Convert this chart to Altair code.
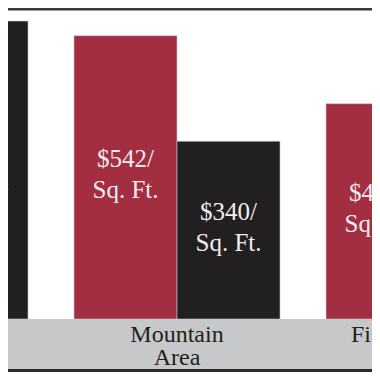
import altair as alt
import pandas as pd

# ---- data ----
groups = ["Downtown", "Mountain Area", "Fish Creek Area"]
group_labels = ["Downtown", "Mountain\nArea", "Fish Creek Area"]
series = ["Series 1", "Series 2"]
series1_values = [None, 542, 412]   # red bars ($ per sq. ft.)
series2_values = [570, 340, None]   # black bars ($ per sq. ft.)

# ---- build tables ----
rows = []
for g, v1, v2 in zip(groups, series1_values, series2_values):
    if v1 is not None:
        rows.append({"group": g, "series": series[0], "value": v1})
    if v2 is not None:
        rows.append({"group": g, "series": series[1], "value": v2})
df = pd.DataFrame(rows)
cats = pd.DataFrame({"group": groups, "label": group_labels})
one = pd.DataFrame({"k": [0]})

# ---- layout / style ----
W, H = 364, 364
RED, BLACK = "#a32e42", "#221f20"
FONT = "Liberation Serif"
base_y = 311
pad_inner = 46 / 252
xscale = alt.Scale(domain=groups, range=[-186, 524], paddingInner=pad_inner, paddingOuter=0)
xoff = alt.Scale(domain=series, paddingInner=0, paddingOuter=0)
yscale = alt.Scale(domain=[0, 595], range=[base_y, 0], nice=False, zero=True)

bars = alt.Chart(df).mark_bar(clip=True, stroke="#c9c4c4", strokeWidth=0.6).encode(
    x=alt.X("group:N", scale=xscale, axis=None),
    xOffset=alt.XOffset("series:N", scale=xoff),
    y=alt.Y("value:Q", scale=yscale, axis=None),
    color=alt.Color("series:N", scale=alt.Scale(domain=series, range=[RED, BLACK]), legend=None),
)

labels = alt.Chart(df).transform_calculate(
    mid="datum.value / 2",
    txt="'$' + datum.value + '/\\nSq. Ft.'",
).mark_text(
    clip=True, font=FONT, fontSize=25, color="#f4ecec", lineBreak="\n",
    lineHeight=31, align="center", baseline="middle", dy=-18,
).encode(
    x=alt.X("group:N", scale=xscale, axis=None),
    xOffset=alt.XOffset("series:N", scale=xoff),
    y=alt.Y("mid:Q", scale=yscale, axis=None),
    text="txt:N",
)

band = alt.Chart(one).mark_rect(color="#c7c8ca").encode(
    x=alt.value(0), x2=alt.value(W), y=alt.value(base_y), y2=alt.value(361)
)
bottom_line = alt.Chart(one).mark_rect(color="#2a2a2a").encode(
    x=alt.value(0), x2=alt.value(W), y=alt.value(361), y2=alt.value(364)
)
top_line = alt.Chart(one).mark_rect(color="#3a3a3a").encode(
    x=alt.value(0), x2=alt.value(W), y=alt.value(0), y2=alt.value(2.5)
)

cat_text = alt.Chart(cats).mark_text(
    font=FONT, fontSize=24, color="#231f20", lineBreak="\n", lineHeight=23,
    align="center", baseline="alphabetic",
).encode(
    x=alt.X("group:N", scale=xscale, axis=None),
    y=alt.value(334),
    text="label:N",
)

chart = alt.layer(bars, labels, band, bottom_line, top_line, cat_text).properties(
    width=W, height=H, autosize=alt.AutoSizeParams(type="none"), padding=0,
).configure_view(stroke=None)

chart.save("out.html", embed_options={"renderer": "svg", "actions": False})
